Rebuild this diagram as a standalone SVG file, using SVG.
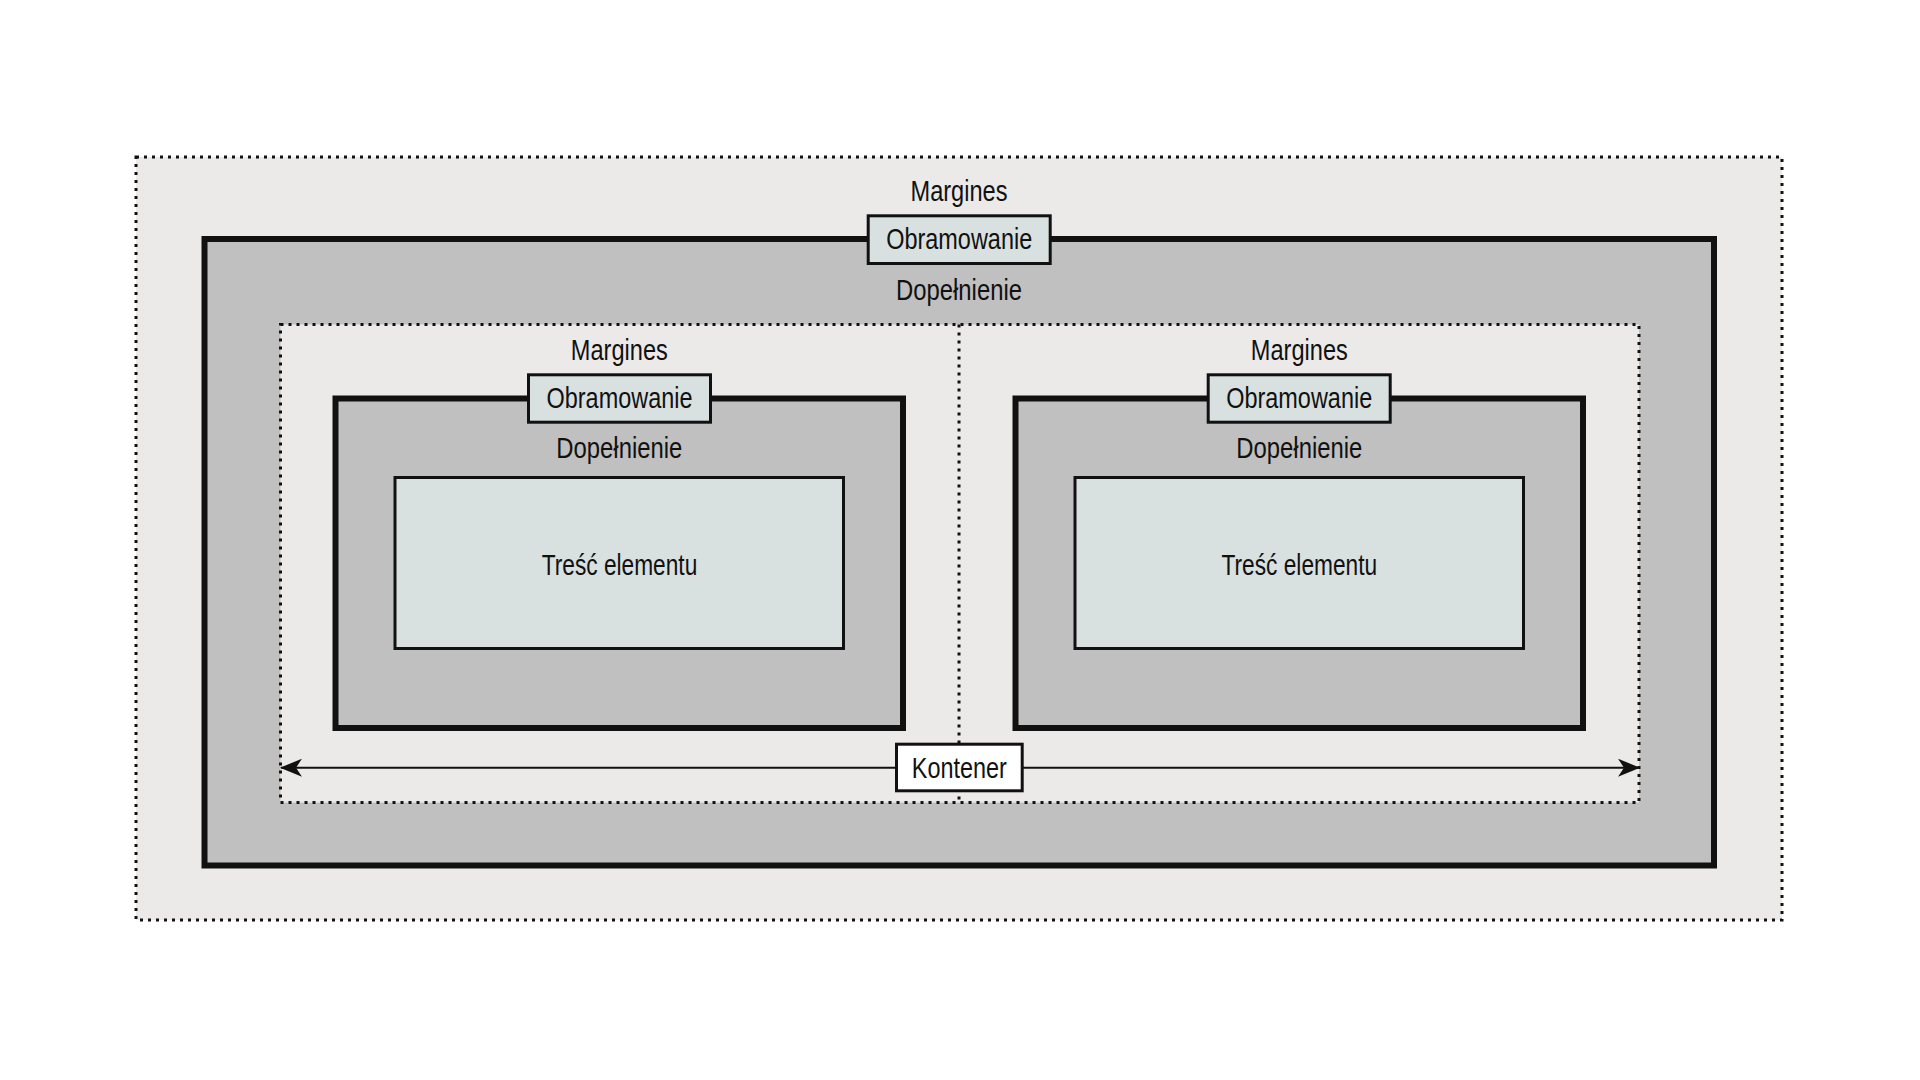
<svg xmlns="http://www.w3.org/2000/svg" width="1920" height="1080" viewBox="0 0 1920 1080">
<defs>
<style>
.margin{fill:#ebeae9;stroke:#111;stroke-width:3;stroke-dasharray:3 5}
.divider{fill:none;stroke:#111;stroke-width:3;stroke-dasharray:3 5}
.border{fill:#c0c0c0;stroke:#111;stroke-width:6}
.content{fill:#d8e0e0;stroke:#111;stroke-width:3}
.tag{fill:#d8e0e0;stroke:#111;stroke-width:3}
.tagw{fill:#ffffff;stroke:#111;stroke-width:3}
text{font-family:"Liberation Sans",Arial,sans-serif;font-size:30px;fill:#111;text-anchor:middle}
.conn{fill:none;stroke:#111;stroke-width:2}
</style>
<marker id="ah" viewBox="0 0 22 18" refX="21" refY="9" markerWidth="22" markerHeight="18" markerUnits="userSpaceOnUse" orient="auto-start-reverse">
<path d="M0,0 L22,9 L0,18 L6,9 Z" fill="#111"/>
</marker>
</defs>
<rect width="1920" height="1080" fill="#ffffff"/>

<g id="outer">
<rect class="margin" x="136" y="157" width="1646" height="763"/>
<text x="959" y="200.7" textLength="97" lengthAdjust="spacingAndGlyphs">Margines</text>
<rect class="border" x="204.5" y="239" width="1509.5" height="626.5"/>
<rect class="tag" x="868.2" y="215.8" width="182" height="47.7"/>
<text x="959.2" y="249.3" textLength="146" lengthAdjust="spacingAndGlyphs">Obramowanie</text>
<text x="959" y="299.5" textLength="126" lengthAdjust="spacingAndGlyphs">Dopełnienie</text>
</g>

<g id="container">
<rect class="margin" x="280.5" y="324.5" width="1358.5" height="478"/>
<line class="divider" x1="959" y1="324.5" x2="959" y2="802.5"/>
</g>

<g id="left-element">
<text x="619.3" y="360" textLength="97" lengthAdjust="spacingAndGlyphs">Margines</text>
<rect class="border" x="335.5" y="398.5" width="567.5" height="329.5"/>
<rect class="tag" x="528.5" y="374.8" width="182" height="47.4"/>
<text x="619.5" y="408.3" textLength="146" lengthAdjust="spacingAndGlyphs">Obramowanie</text>
<text x="619.3" y="458.3" textLength="126" lengthAdjust="spacingAndGlyphs">Dopełnienie</text>
<rect class="content" x="395" y="477.5" width="448.5" height="171"/>
<text x="619.5" y="575" textLength="155.6" lengthAdjust="spacingAndGlyphs">Treść elementu</text>
</g>

<g id="right-element">
<text x="1299.3" y="360" textLength="97" lengthAdjust="spacingAndGlyphs">Margines</text>
<rect class="border" x="1015.5" y="398.5" width="567.5" height="329.5"/>
<rect class="tag" x="1208.2" y="374.8" width="182" height="47.4"/>
<text x="1299.2" y="408.3" textLength="146" lengthAdjust="spacingAndGlyphs">Obramowanie</text>
<text x="1299.3" y="458.3" textLength="126" lengthAdjust="spacingAndGlyphs">Dopełnienie</text>
<rect class="content" x="1075" y="477.5" width="448.5" height="171"/>
<text x="1299.3" y="575" textLength="155.6" lengthAdjust="spacingAndGlyphs">Treść elementu</text>
</g>

<g id="connectors">
<line class="conn" x1="281" y1="767.7" x2="1639" y2="767.7" marker-start="url(#ah)" marker-end="url(#ah)"/>
</g>

<g id="kontener">
<rect class="tagw" x="896.5" y="744.2" width="125.7" height="46.6"/>
<text x="959.3" y="778" textLength="95" lengthAdjust="spacingAndGlyphs">Kontener</text>
</g>
</svg>
